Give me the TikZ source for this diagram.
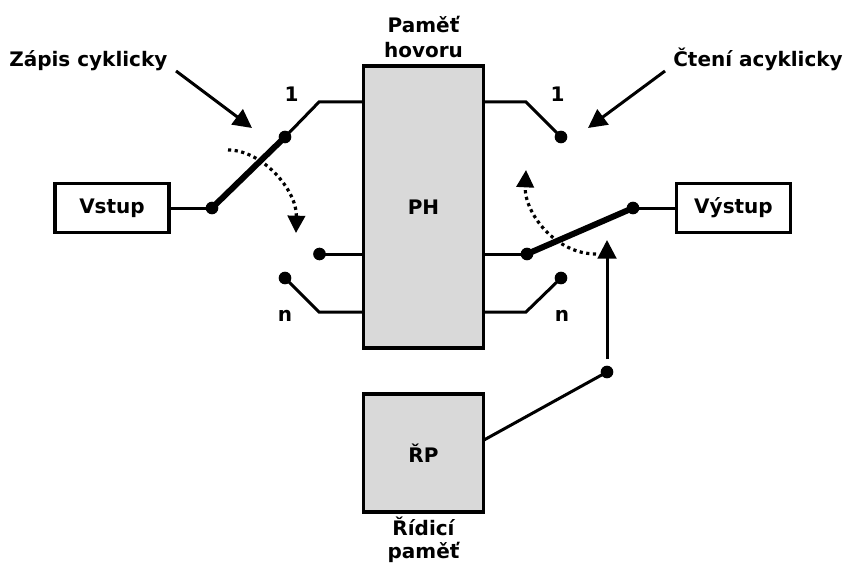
\documentclass[tikz,border=0pt]{standalone}
\usepackage{fontspec}
\setmainfont{DejaVu Sans}
\usetikzlibrary{arrows.meta}
\definecolor{memgrey}{HTML}{D9D9D9}
\tikzset{
 box/.style={draw=black,line width=2.5pt,fill=white,minimum height=37pt,inner sep=0pt,font=\fontsize{15}{18}\selectfont\bfseries},
 mem/.style={draw=black,line width=2.5pt,fill=memgrey,minimum width=90pt,inner sep=0pt,font=\fontsize{15}{18}\selectfont\bfseries},
 lbl/.style={inner sep=0pt,align=center,font=\fontsize{15}{18.75}\selectfont\bfseries},
 lbltight/.style={inner sep=0pt,align=center,font=\fontsize{15}{17.5}\selectfont\bfseries},
 dotn/.style={circle,fill=black,inner sep=0pt,minimum size=9.5pt},
 wire/.style={line width=2.25pt},
 sw/.style={line width=4.5pt},
 arr/.style={line width=2.25pt,-{Triangle[length=14pt,width=14pt]}},
 curv/.style={line width=2.4pt,dash pattern=on 2.4pt off 2.6pt,-{Triangle[length=13pt,width=13pt]}}
}
\begin{document}
\begin{tikzpicture}[x=0.75pt,y=-0.75pt]
\useasboundingbox (0,0) rectangle (845,563);
\node[mem,minimum height=211.5pt] (ph) at (423.5,207) {PH};
\node[mem,minimum height=88.5pt] (rp) at (423.5,453) {ŘP};
\node[box,minimum width=85.5pt] (vstup) at (112,208) {Vstup};
\node[box,minimum width=85.5pt] (vystup) at (733.5,208) {Výstup};
\node[lbl] (lph) at (423.5,37.5) {Paměť\\hovoru};
\node[lbltight] (lrp) at (423.5,540) {Řídicí\\paměť};
\node[lbl,anchor=base west] (zapis) at (9,66.5) {Zápis cyklicky};
\node[lbl,anchor=base east] (cteni) at (843,66.5) {Čtení acyklicky};
\node[lbl] (l1a) at (291.5,94) {1};
\node[lbl] (l1b) at (557.5,94) {1};
\node[lbl] (lna) at (285,316) {n};
\node[lbl] (lnb) at (562,316) {n};
\node[dotn] (a) at (212,208) {};
\node[dotn] (b) at (285,137) {};
\node[dotn] (c) at (319.5,254) {};
\node[dotn] (d) at (285,278) {};
\node[dotn] (e) at (527,254) {};
\node[dotn] (f) at (633,208) {};
\node[dotn] (g) at (561,137) {};
\node[dotn] (h) at (561,278) {};
\node[dotn] (i) at (607,372) {};
\coordinate (p1) at (319,102);
\coordinate (p2) at (319,312);
\coordinate (q1) at (526,102);
\coordinate (q2) at (526,312);
\coordinate (zs) at (176,71);
\coordinate (ze) at (252,128);
\coordinate (cs) at (665,71);
\coordinate (ce) at (588,128);
\coordinate (t0) at (607,359);
\coordinate (t1) at (607,240);
\coordinate (k1) at (228,150);
\coordinate (k2) at (296,233);
\coordinate (m1) at (596,254);
\coordinate (m2) at (526,170);
\coordinate (rw) at (484,440);
\draw[wire] (vstup.east) -- (a.center);
\draw[sw] (a.center) -- (b.center);
\draw[wire] (b.center) -- (p1) -- (p1-|ph.west);
\draw[wire] (c.center) -- (c-|ph.west);
\draw[wire] (d.center) -- (p2) -- (p2-|ph.west);
\draw[wire] (q1-|ph.east) -- (q1) -- (g.center);
\draw[wire] (e-|ph.east) -- (e.center);
\draw[wire] (q2-|ph.east) -- (q2) -- (h.center);
\draw[sw] (e.center) -- (f.center);
\draw[wire] (f.center) -- (vystup.west);
\draw[wire] (rw) -- (i.center);
\draw[arr] (t0) -- (t1);
\draw[arr] (zs) -- (ze);
\draw[arr] (cs) -- (ce);
\draw[curv] (k1) .. controls (262,150) and (297,190) .. (k2);
\draw[curv] (m1) .. controls (555,254) and (524,212) .. (m2);
\end{tikzpicture}
\end{document}
